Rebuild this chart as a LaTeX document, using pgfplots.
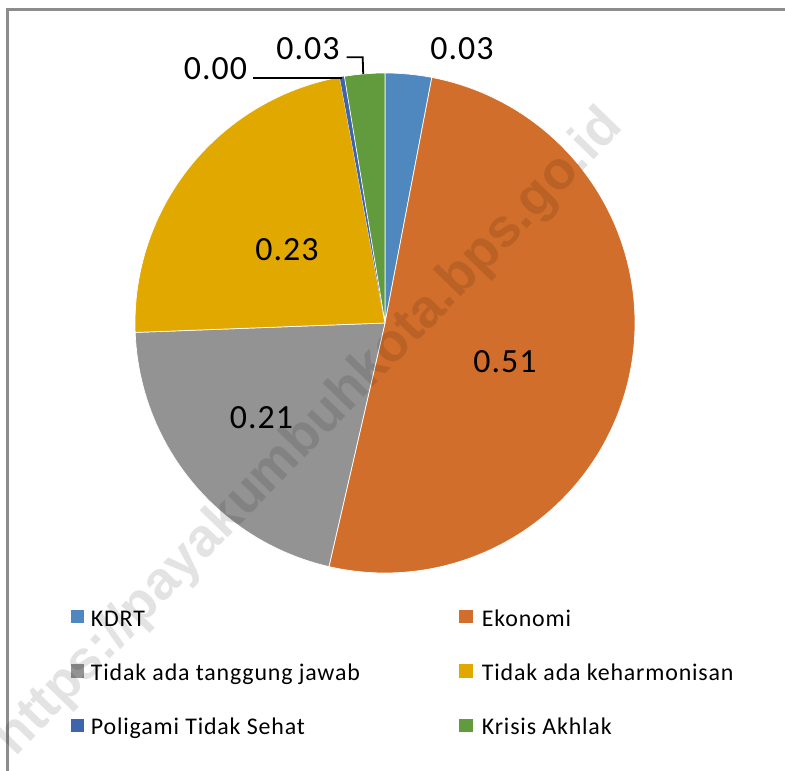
\documentclass[border=0pt]{standalone}
\usepackage{fontspec}
\setmainfont{Carlito}
\newfontfamily\legfont{Carlito}[LetterSpace=3.5]
\newfontfamily\labfont{Carlito}[LetterSpace=3]
\newfontfamily\wmfont{Liberation Sans}
\usepackage{pgfplots}
\pgfplotsset{compat=1.18}
\usepackage{pgfplotstable}

\definecolor{cKDRT}{RGB}{79,136,191}
\definecolor{cEko}{RGB}{210,110,43}
\definecolor{cTTJ}{RGB}{147,147,147}
\definecolor{cHar}{RGB}{225,168,0}
\definecolor{cPol}{RGB}{61,100,173}
\definecolor{cKri}{RGB}{98,155,62}
\definecolor{cFrame}{RGB}{140,140,140}

% shares of the pie
\def\vKDRT{0.030}
\def\vEko{0.506}
\def\vTTJ{0.208}
\def\vHar{0.227}
\def\vPol{0.003}
\def\vKri{0.026}

\begin{document}
\begin{tikzpicture}
\useasboundingbox (0,0) rectangle (785bp,771bp);
\clip (0,0) rectangle (785bp,771bp);
\pgfmathsetmacro\aA{0}
\pgfmathsetmacro\aB{\aA+\vKDRT*360}
\pgfmathsetmacro\aC{\aB+\vEko*360}
\pgfmathsetmacro\aD{\aC+\vTTJ*360}
\pgfmathsetmacro\aE{\aD+\vHar*360}
\pgfmathsetmacro\aF{\aE+\vPol*360}
\pgfmathsetmacro\aG{\aF+\vKri*360}
\begin{axis}[at={(0,0)}, anchor=south west, scale only axis,
  width=785bp, height=771bp, xmin=0, xmax=785, ymin=0, ymax=771,
  hide axis, clip=false]
\addplot[fill=cKDRT, draw=white, line width=0.7bp, line join=round, domain=\aA:\aB, samples=20] ({385+250*sin(x)},{448+250*cos(x)}) -- (385,448) -- cycle;
\addplot[fill=cEko, draw=white, line width=0.7bp, line join=round, domain=\aB:\aC, samples=150] ({385+250*sin(x)},{448+250*cos(x)}) -- (385,448) -- cycle;
\addplot[fill=cTTJ, draw=white, line width=0.7bp, line join=round, domain=\aC:\aD, samples=70] ({385+250*sin(x)},{448+250*cos(x)}) -- (385,448) -- cycle;
\addplot[fill=cHar, draw=white, line width=0.7bp, line join=round, domain=\aD:\aE, samples=70] ({385+250*sin(x)},{448+250*cos(x)}) -- (385,448) -- cycle;
\addplot[fill=cPol, draw=none, domain=\aE:\aF, samples=5] ({385+250*sin(x)},{448+250*cos(x)}) -- (385,448) -- cycle;
\addplot[fill=cKri, draw=white, line width=0.7bp, line join=round, domain=\aF:\aG, samples=20] ({385+250*sin(x)},{448+250*cos(x)}) -- (385,448) -- cycle;

% data labels
\begin{scope}[every node/.style={font=\labfont\fontsize{34}{34}\selectfont, inner sep=0pt}]
\node at (462,722) {0.03};
\node at (505,409) {0.51};
\node at (261.5,353) {0.21};
\node at (287,521) {0.23};
\node at (215.5,702) {0.00};
\node at (308,722) {0.03};
\end{scope}
\draw[black, line width=2.2bp] (253,693.3) -- (342,693.3);
\draw[black, line width=1.8bp] (346.7,713.7) -- (362.7,713.7) -- (363.2,697);

% legend
\begin{scope}[every node/.style={font=\legfont\fontsize{24}{24}\selectfont, inner sep=0pt, anchor=base west}]
\fill[cKDRT] (71,147.7) rectangle (84.3,161);
\node at (90.7,144.3) {KDRT};
\fill[cTTJ] (71,93.2) rectangle (84.3,106.5);
\node at (90.7,90.3) {Tidak ada tanggung jawab};
\fill[cPol] (71,38.5) rectangle (84.3,51.8);
\node at (90.7,36) {Poligami Tidak Sehat};
\fill[cEko] (459,147.7) rectangle (473,161);
\node at (481.7,144.3) {Ekonomi};
\fill[cHar] (459,93.2) rectangle (473,106.5);
\node at (481.7,90.3) {Tidak ada keharmonisan};
\fill[cKri] (459,38.5) rectangle (473,51.8);
\node at (481.7,36) {Krisis Akhlak};
\end{scope}

% frame
\draw[cFrame, line width=2.5bp] (7.3,-10) -- (7.3,761.3) -- (800,761.3);

% watermark
\node[rotate=45.9, opacity=0.11, inner sep=0pt,
  font=\wmfont\bfseries\fontsize{54}{54}\selectfont] at (310,338) {https://payakumbuhkota.bps.go.id};
\end{axis}
\end{tikzpicture}
\end{document}
